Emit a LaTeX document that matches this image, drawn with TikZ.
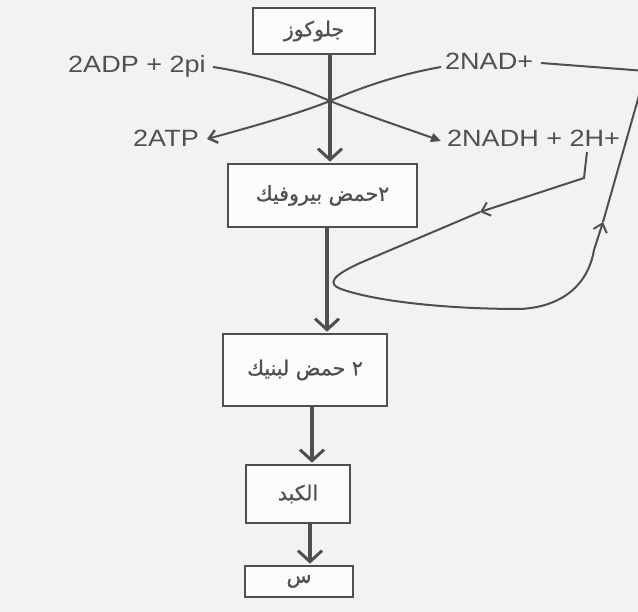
\documentclass[tikz,border=0pt]{standalone}
\usepackage{fontspec}
\setmainfont{Liberation Sans}
\newfontfamily\lat[FakeStretch=1.15]{Liberation Sans}
\newfontfamily\arabicfont[Script=Arabic,FakeBold=0.8]{DejaVu Sans}
\TeXXeTstate=1
\usetikzlibrary{arrows.meta}
\definecolor{ink}{HTML}{4F4F4F}
\definecolor{txt}{HTML}{505050}
\definecolor{bgc}{HTML}{F2F2F2}
\definecolor{boxfill}{HTML}{FBFBFB}
\begin{document}
\begin{tikzpicture}[x=1pt,y=-1pt,
  box/.style={draw=ink, line width=2.6pt, fill=boxfill, inner sep=0pt, text=txt,
    font=\arabicfont\fontsize{20.5}{22}\selectfont},
  lbl/.style={inner sep=0pt, anchor=base west, text=txt, font=\lat\fontsize{23.5}{28}\selectfont},
  mainline/.style={draw=ink, line width=3.6pt, shorten >=1pt,
    -{Straight Barb[length=11pt,width=24pt,line width=3pt]}},
  thinline/.style={draw=ink, line width=2pt},
  barb/.style={-{Straight Barb[length=8pt,width=14pt,line width=2pt]}}]
\fill[bgc] (0,0) rectangle (638,612);
\useasboundingbox (0,0) rectangle (638,612);

% boxes
\node[box, minimum width=122pt, minimum height=46pt] (g) at (314,31) {\raisebox{-3pt}{\beginR جلوكوز\endR}};
\node[box, minimum width=189pt, minimum height=63pt] (p) at (322.5,195.5) {\beginR ٢حمض بيروفيك\endR};
\node[box, minimum width=164pt, minimum height=72pt] (l) at (305,370) {\beginR ٢ حمض لبنيك\endR};
\node[box, minimum width=104pt, minimum height=58pt] (k) at (298,494) {\beginR الكبد\endR};
\node[box, minimum width=108pt, minimum height=31pt] (s) at (299,581.5) {\beginR س\endR};

% labels
\node[lbl] (adp) at (68,73) {2ADP + 2pi};
\node[lbl] (atp) at (133,147) {2ATP};
\node[lbl] (nad) at (445,70) {2NAD+};
\node[lbl] (nadh) at (447,147) {2NADH + 2H+};

% main flow
\coordinate (c1) at (330,0);
\coordinate (c2) at (327,0);
\coordinate (c3) at (312,0);
\coordinate (c4) at (310,0);
\draw[mainline] (g.south -| c1) -- (p.north -| c1);
\draw[mainline] (p.south -| c2) -- (l.north -| c2);
\draw[mainline] (l.south -| c3) -- (k.north -| c3);
\draw[mainline] (k.south -| c4) -- (s.north -| c4);

% crossing curves
\coordinate (X) at (330,101);
\coordinate (adpS) at (213,67);
\coordinate (atpT) at (207,139);
\coordinate (nadS) at (441,67);
\coordinate (nadhT) at (441,141);
\draw[thinline, -{Straight Barb[length=8pt,width=13pt,line width=2.4pt]}]
  (adpS) .. controls (265,75) and (305,90) .. (X)
  .. controls (300,113) and (255,126) .. (atpT);
\draw[thinline, -{Triangle[length=10pt,width=9pt]}]
  (nadS) .. controls (395,75) and (355,90) .. (X)
  .. controls (360,113) and (405,128) .. (nadhT);

% NADH recycling loop
\coordinate (h0) at (587,152);
\coordinate (h1) at (584,178);
\coordinate (m1) at (480,212);
\coordinate (m2) at (603,222);
\coordinate (corner) at (646,71);
\coordinate (nadR) at (541,63);
\draw[thinline, barb] (h0) -- (h1) -- (m1);
\draw[thinline, barb] (m1) -- (360,263) .. controls (334,275) and (324,284) .. (344,290)
  .. controls (380,302) and (450,309) .. (520,309)
  .. controls (562,307) and (588,285) .. (594,250) -- (m2);
\draw[thinline] (m2) -- (corner) -- (nadR);
\end{tikzpicture}
\end{document}
